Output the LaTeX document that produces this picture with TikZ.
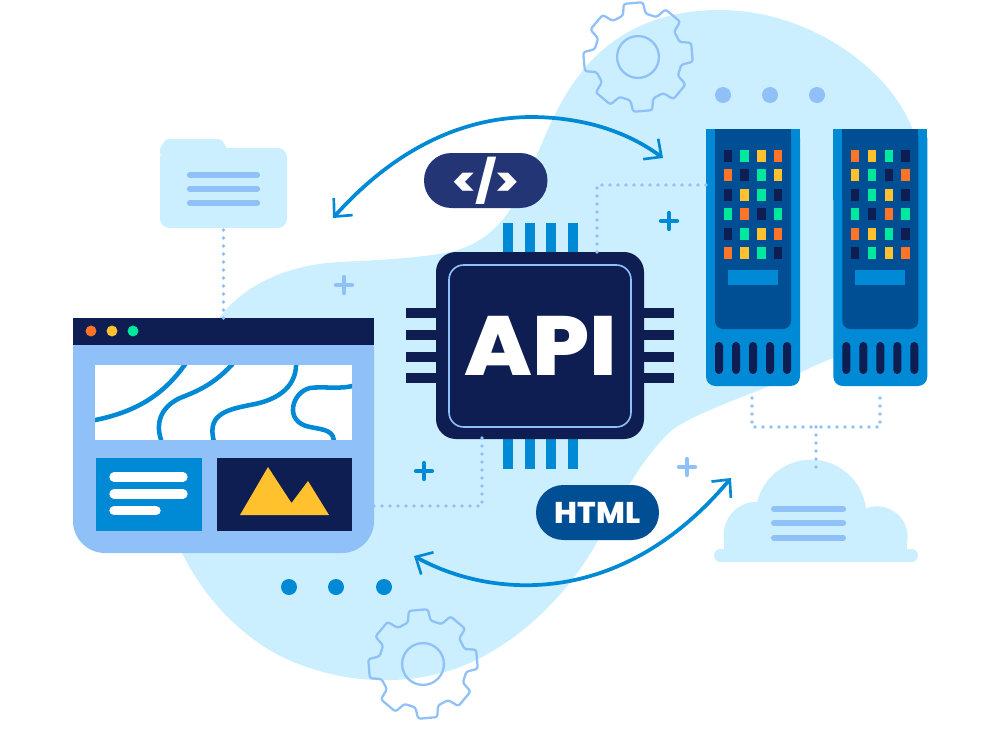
\documentclass[tikz,border=0pt]{standalone}
\usepackage{fontspec}
\setmainfont{Poppins}
\newfontfamily\heavyface{Poppins ExtraBold}
\usetikzlibrary{arrows.meta,calc}

\definecolor{haze}{HTML}{CBEFFF}
\definecolor{sky}{HTML}{8FC0F7}
\definecolor{azure}{HTML}{0089D4}
\definecolor{deep}{HTML}{004F94}
\definecolor{navy}{HTML}{0F1E52}
\definecolor{indigo}{HTML}{233574}
\definecolor{mint}{HTML}{00E89C}
\definecolor{amber}{HTML}{FFC22E}
\definecolor{flame}{HTML}{FF7426}

\tikzset{
  x=0.75pt, y=-0.75pt,
  solidbox/.style={inner sep=0pt, outer sep=0pt, draw=none},
  dotline/.style={sky, line width=2.9pt, line cap=round, dash pattern=on 0pt off 6pt},
  flowarrow/.style={azure, line width=2.8pt,
    {Straight Barb[length=10pt,width=19pt,line width=2pt]}-{Straight Barb[length=10pt,width=19pt,line width=2pt]}},
  textbar/.style={line width=4.6pt, line cap=round},
  wave/.style={azure, line width=3.4pt},
  gearwheel/.pic={
    \draw[sky, line width=1.7pt, rounded corners=1.8pt, line join=round]
      (-27.5:44)
      \foreach \a in {-5,40,85,130,175,220,265,310} {
        -- ({\a-15}:44) -- ({\a-10}:55) -- ({\a+10}:55) -- ({\a+15}:44)
      } -- cycle;
    \draw[sky, line width=1.7pt] (0,0) circle[radius=15.7pt];
  },
  plusmark/.pic={
    \draw[line width=3.2pt, line cap=round, pic actions] (0,-8) -- (0,8) (-8,0) -- (8,0);
  }
}

% A filled box given by its pixel corners: style, name, x1, y1, x2, y2
\newcommand{\pxbox}[6]{%
  \pgfmathsetmacro\boxw{(#5-#3)*0.75}%
  \pgfmathsetmacro\boxh{(#6-#4)*0.75}%
  \node[solidbox, #1, minimum width=\boxw pt, minimum height=\boxh pt]
    (#2) at ({(#3+#5)/2},{(#4+#6)/2}) {};%
}

% One server rack: name, horizontal offset, LED colours row by row
\newcommand{\rack}[3]{%
  \begin{scope}[shift={(#2,0)}]
    \pxbox{fill=azure, rounded corners=7pt}{#1}{706}{129}{800}{386}
    \fill[azure] (706,129) rectangle (800,200);
    \fill[deep, rounded corners=6pt] (715,129) -- (791,129) -- (791,329) -- (715,329) -- cycle;
    \fill[deep] (715,129) rectangle (791,200);
    \foreach \led [count=\n from 0] in {#3} {
      \pgfmathtruncatemacro\col{mod(\n,4)}
      \pgfmathtruncatemacro\row{floor(\n/4)}
      \fill[\led] ({727.7+16.85*\col-4.2},{155.7+19.45*\row-6})
        rectangle ({727.7+16.85*\col+4.2},{155.7+19.45*\row+6});
    }
    \fill[azure] (727.7,270) rectangle (778,285);
    \foreach \sx in {719,736,753,770,787} {
      \fill[navy, rounded corners=3pt] (\sx-4,342) rectangle (\sx+4,374);
    }
  \end{scope}
}

\begin{document}
\begin{tikzpicture}
\useasboundingbox (0,0) rectangle (1000,750);

% Backdrop blob
\fill[haze] (220,317)
  .. controls (240,290) and (280,265) .. (340,262)
  .. controls (380,260) and (420,258) .. (450,252)
  .. controls (490,243) and (510,215) .. (527,180)
  .. controls (545,135) and (560,95) .. (590,62)
  .. controls (625,25) and (670,10) .. (720,10)
  .. controls (810,10) and (890,70) .. (912,128)
  .. controls (935,190) and (935,300) .. (880,335)
  .. controls (860,350) and (830,357) .. (800,373)
  .. controls (760,392) and (700,410) .. (672,430)
  .. controls (645,455) and (625,490) .. (602,533)
  .. controls (570,595) and (520,640) .. (470,663)
  .. controls (420,685) and (360,685) .. (310,668)
  .. controls (250,650) and (205,600) .. (182,553)
  .. controls (165,500) and (165,380) .. (220,317) -- cycle;

% Gears
\pic at (638,57) {gearwheel};
\pic at (423,664) {gearwheel};

% Dots and plus marks
\foreach \dx in {723,770,817} { \fill[sky] (\dx,95) circle[radius=6pt]; }
\foreach \dx in {289,336,384} { \fill[azure] (\dx,587) circle[radius=6pt]; }
\pic[sky] at (344,285) {plusmark};
\pic[azure] at (669,221) {plusmark};
\pic[azure] at (424,471) {plusmark};
\pic[sky] at (687,467) {plusmark};

% Folder
\fill[haze, rounded corners=7pt] (160,148) -- (160,228) -- (287,228) -- (287,148) -- cycle;
\fill[haze, rounded corners=1.5pt] (160,150) -- (160,148) -- (166,139) -- (221,139) -- (227,148) -- (227,155) -- (160,155) -- cycle;
\pxbox{}{folder}{160}{139}{287}{228}
\foreach \ly in {175,189,203} { \draw[sky, textbar] (190,\ly) -- (257,\ly); }

% Browser window
\pxbox{fill=sky, rounded corners=24pt}{browser}{73}{318}{374}{553}
\fill[navy] (73,318) rectangle (374,345);
\foreach \bx/\bc in {91/flame,112/amber,133/mint} { \fill[\bc] (\bx,331) circle[radius=4.1pt]; }
\fill[white] (95,365) rectangle (352,439.5);
\begin{scope}
  \clip (95,365) rectangle (352,439.5);
  \draw[wave] (90,421) .. controls (135,413) and (165,395) .. (188,360);
  \draw[wave] (236,360) .. controls (215,385) and (195,392) .. (180,398) .. controls (165,405) and (152,420) .. (163,445);
  \draw[wave] (296,360) .. controls (298,385) and (280,400) .. (250,405) .. controls (225,410) and (205,415) .. (215,445);
  \draw[wave] (356,385) .. controls (340,390) and (325,386) .. (310,388) .. controls (292,392) and (283,422) .. (310,427) .. controls (325,430) and (335,430) .. (334,445);
\end{scope}
\pxbox{fill=azure}{textpanel}{96}{458}{201.5}{530.5}
\foreach \ly/\lx in {477/183,494/183,510.7/156} { \draw[white, line width=7pt, line cap=round] (114,\ly) -- (\lx,\ly); }
\pxbox{fill=navy}{imagepanel}{217}{458}{352}{530.5}
\fill[amber] (240,515) -- (268,467) -- (291.5,503) -- (308,481) -- (329,515) -- cycle;

% Chip pins
\foreach \px in {503,524.5,546,567.5} {
  \fill[azure] (\px,223) rectangle (\px+10,253);
  \fill[azure] (\px,438) rectangle (\px+10,469);
}
\foreach \py in {308,330,352,373} {
  \fill[navy] (406,\py) rectangle (437,\py+10);
  \fill[navy] (643,\py) rectangle (674,\py+10);
}
% Chip body
\pxbox{fill=navy, rounded corners=15pt}{chip}{436}{252}{644}{439}
\draw[sky, line width=1.2pt, rounded corners=11pt] (449,265) rectangle (631,427);
\node[solidbox, text=white, xscale=1.07, font=\fontsize{63}{63}\selectfont\heavyface] (apitext) at (540.5,346) {API};

% Server racks
\rack{rackone}{0}{navy,mint,amber,flame,flame,navy,mint,amber,navy,amber,mint,navy,mint,flame,navy,mint,navy,mint,amber,flame,flame,amber,mint,navy}
\rack{racktwo}{127.3}{flame,amber,mint,navy,amber,mint,navy,flame,navy,mint,amber,navy,mint,navy,flame,mint,flame,amber,mint,navy,navy,mint,amber,flame}

% Cloud
\begin{scope}
  \clip (700,440) rectangle (930,556);
  \fill[haze] (811,515) circle[radius=41.5pt];
  \fill[haze] (757,535) circle[radius=25pt];
  \fill[haze] (877,537) circle[radius=23pt];
  \fill[haze] (724,535) rectangle (907,556);
\end{scope}
\pxbox{fill=haze, rounded corners=4.8pt}{cloud}{714}{549}{918}{562}
\foreach \ly in {509,523,538} { \draw[sky, textbar] (774,\ly) -- (843,\ly); }

% Badges
\pxbox{fill=indigo, rounded corners=20.5pt}{codebadge}{424}{153}{547.5}{208}
\node[solidbox, text=white, xscale=1.1, font=\fontsize{31}{31}\selectfont\heavyface] (codetext) at (codebadge) {</>};
\pxbox{fill=deep, rounded corners=20.5pt}{htmlbadge}{536}{485}{659}{540}
\node[solidbox, text=white, xscale=1.03, font=\fontsize{22.5}{22.5}\selectfont\heavyface] (htmltext) at (htmlbadge) {HTML};

% Dotted links
\coordinate (chiptop) at (597,252);
\coordinate (rackport) at (706,185);
\coordinate (chipfoot) at (482,438);
\coordinate (browserport) at (374,506);
\coordinate (rackonefoot) at (752,398);
\coordinate (racktwofoot) at (880,398);
\coordinate (cloudtop) at (816,470);
\coordinate (busjoint) at (816,427);
\draw[dotline] (folder.south) ++(0,2) -- (browser.north);
\draw[dotline] (chiptop) |- (rackport);
\draw[dotline] (chipfoot) |- (browserport);
\draw[dotline] (rackonefoot) |- (busjoint);
\draw[dotline] (racktwofoot) |- (busjoint);
\draw[dotline] (busjoint) -- (cloudtop);

% Exchange arrows
\coordinate (upperleft) at (333,218);
\coordinate (upperright) at (663,158);
\coordinate (upperapex) at (530,117);
\coordinate (lowerleft) at (414,556);
\coordinate (lowerright) at (731,478);
\draw[flowarrow] (upperleft) .. controls (385,160) and (450,118) .. (upperapex) .. controls (580,117) and (625,130) .. (upperright);
\draw[flowarrow] (lowerleft) .. controls (490,598) and (620,610) .. (lowerright);
\end{tikzpicture}
\end{document}
